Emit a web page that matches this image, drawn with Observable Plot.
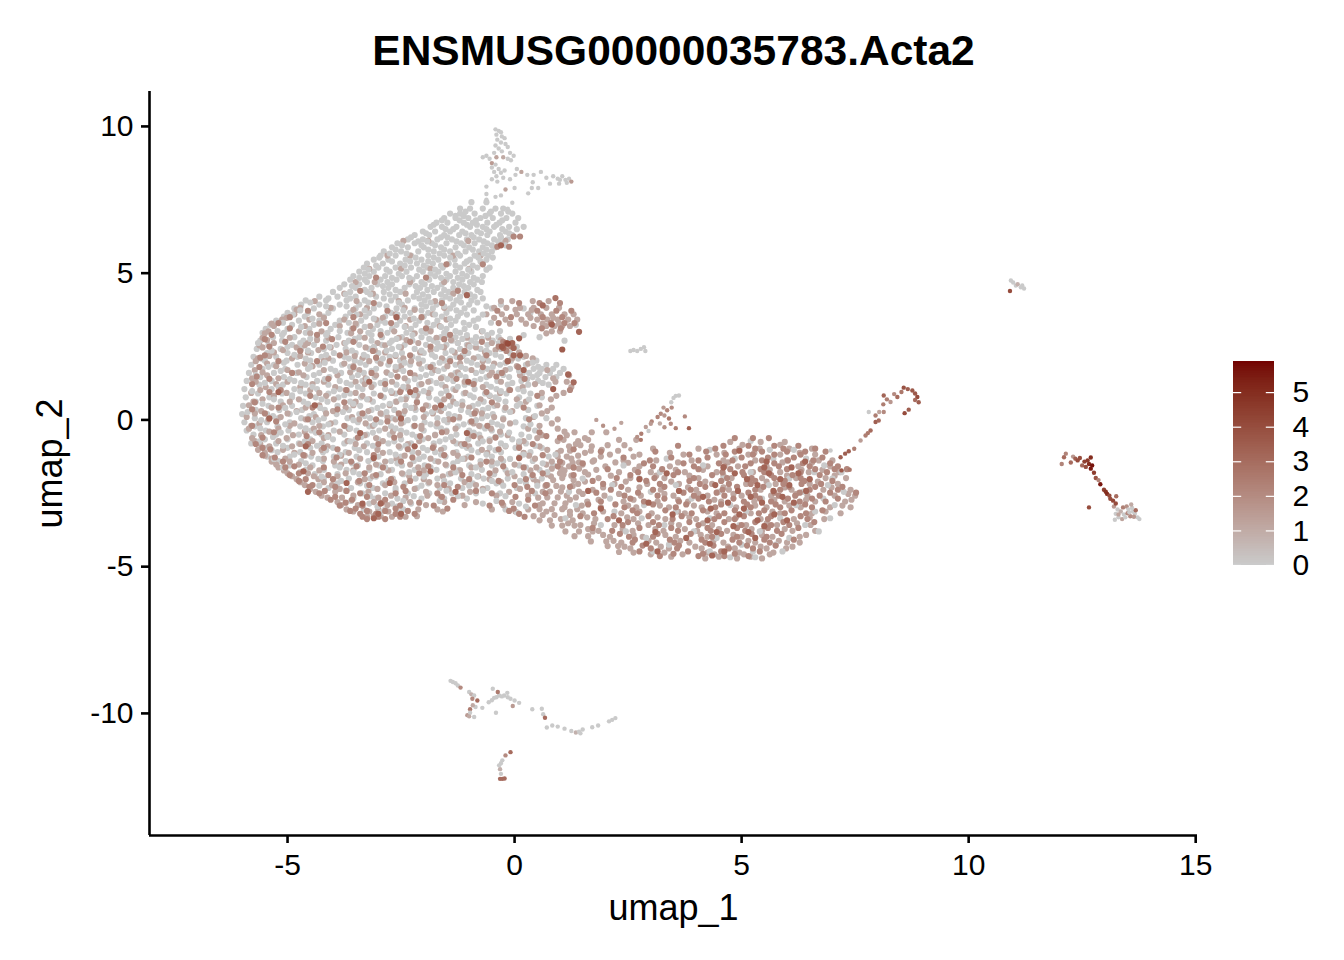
<!DOCTYPE html>
<html><head><meta charset="utf-8">
<script src="https://cdn.jsdelivr.net/npm/d3@7"></script>
<script src="https://cdn.jsdelivr.net/npm/@observablehq/plot@0.6"></script>
<style>html,body{margin:0;background:#fff}#c{position:relative;width:1344px;height:960px;overflow:hidden}#c svg{position:absolute;background:transparent}</style>
</head><body><div id="c"></div>
<script>
const titleText="ENSMUSG00000035783.Acta2", xLabel="umap_1", yLabel="umap_2";
const xTicks=[-5,0,5,10,15], yTicks=[-10,-5,0,5,10], legendTicks=[0,1,2,3,4,5];
const maxValue=5.9;
// rows: [y, x, x, x ...]
const bodyGrey=[
[7.42,-0.95,-0.62],[7.2,-1.2,-0.98,-0.7,-0.42,-0.25],[7.03,-1.42,-1.2,-0.88,-0.55,-0.3,-0.05],[6.88,-1.55,-1.3,-1.02,-0.75,-0.48,-0.18,0.08],
[6.72,-1.72,-1.48,-1.12,-0.92,-0.6,-0.33,0.02],[6.58,-1.85,-1.6,-1.28,-0.98,-0.7,-0.45,-0.12,0.2],[6.42,-2.02,-1.75,-1.42,-1.15,-0.82,-0.55,-0.2],[6.3,-2.2,-1.88,-1.55,-1.22,-0.95,-0.6,-0.32,-0.05],
[6.15,-2.35,-2.02,-1.7,-1.38,-1.05,-0.78,-0.45,-0.15],[6.02,-2.58,-2.2,-1.82,-1.5,-1.18,-0.88,-0.6,-0.28],[5.88,-2.7,-2.35,-2,-1.62,-1.3,-1,-0.7,-0.42],[5.74,-2.88,-2.5,-2.12,-1.78,-1.42,-1.08,-0.78,-0.5],
[5.6,-2.95,-2.62,-2.28,-1.9,-1.55,-1.2,-0.88,-0.58],[5.46,-3.1,-2.78,-2.4,-2.05,-1.68,-1.32,-0.98,-0.62],[5.33,-3.25,-2.9,-2.52,-2.15,-1.8,-1.45,-1.1,-0.7],[5.19,-3.32,-3,-2.62,-2.28,-1.92,-1.58,-1.2,-0.82,-0.55],
[5.05,-3.42,-3.1,-2.75,-2.38,-2.02,-1.68,-1.3,-0.95],[4.9,-3.55,-3.2,-2.85,-2.48,-2.15,-1.75,-1.42,-1.05,-0.7],[4.78,-3.62,-3.3,-2.95,-2.6,-2.25,-1.88,-1.5,-1.15,-0.82],[4.62,-3.75,-3.42,-3.02,-2.7,-2.32,-1.98,-1.6,-1.22,-0.9],
[4.5,-3.85,-3.5,-3.15,-2.78,-2.42,-2.08,-1.7,-1.35,-1.02],[4.36,-4,-3.62,-3.25,-2.88,-2.52,-2.15,-1.78,-1.45,-1.1,-0.75],[4.2,-4.3,-3.9,-3.5,-3.05,-2.62,-2.22,-1.9,-1.52,-1.2,-0.88],[4.07,-4.6,-4.15,-3.7,-3.3,-2.72,-2.35,-1.98,-1.6,-1.28,-0.95],
[3.93,-4.7,-4.3,-3.85,-3.42,-2.98,-2.48,-2.05,-1.72,-1.35,-1.0,-0.3],[3.8,-4.85,-4.42,-4,-3.5,-3.1,-2.6,-2.2,-1.8,-1.42,-1.1,-0.5,0.2],[3.65,-5,-4.55,-4.1,-3.62,-3.2,-2.72,-2.3,-1.9,-1.5,-1.18,0.35],[3.52,-5.08,-4.62,-4.2,-3.72,-3.28,-2.85,-2.42,-2,-1.6,-1.25],
[3.38,-5.25,-4.75,-4.3,-3.85,-3.38,-2.95,-2.52,-2.1,-1.7,-1.3,-0.9],[3.24,-5.38,-4.9,-4.42,-3.95,-3.48,-3.02,-2.6,-2.18,-1.78,-1.4,-1.0,1.35],[3.1,-5.48,-5,-4.52,-4.05,-3.58,-3.12,-2.7,-2.28,-1.85,-1.5,-1.1],[2.97,-5.55,-5.08,-4.6,-4.12,-3.68,-3.22,-2.8,-2.38,-1.95,-1.55,-1.2,-0.5],
[2.82,-5.32,-4.85,-4.35,-3.88,-3.42,-2.92,-2.48,-2.05,-1.62,-1.3,-0.85,-0.35,0.55],[2.7,-5.6,-5.12,-4.65,-4.15,-3.65,-3.15,-2.7,-2.25,-1.78,-1.38,-0.95,-0.48,1.1],[2.56,-5.42,-4.9,-4.42,-3.92,-3.42,-2.92,-2.42,-1.95,-1.5,-1.05,-0.6],[2.42,-5.68,-5.15,-4.7,-4.2,-3.72,-3.2,-2.7,-2.2,-1.72,-1.2,-0.75,-0.3],
[2.28,-5.45,-5,-4.48,-3.98,-3.5,-3,-2.48,-2,-1.52,-1.02,-0.55,-0.1],[2.15,-5.75,-5.25,-4.78,-4.25,-3.75,-3.25,-2.75,-2.25,-1.75,-1.28,-0.8,-0.3,0.2],[2.02,-5.5,-5.02,-4.5,-4,-3.52,-3.02,-2.52,-2.02,-1.55,-1.05,-0.58,-0.08,0.48],[1.88,-5.8,-5.3,-4.78,-4.3,-3.8,-3.28,-2.78,-2.3,-1.8,-1.3,-0.82,-0.32,0.25,0.7,0.92],
[1.74,-5.55,-5.05,-4.55,-4.05,-3.55,-3.05,-2.55,-2.05,-1.55,-1.08,-0.6,-0.1,0.42,0.6,0.85,1.08],[1.6,-5.85,-5.3,-4.8,-4.3,-3.82,-3.32,-2.8,-2.3,-1.82,-1.3,-0.85,-0.35,0.18,0.32,0.55,0.78,1],[1.46,-5.6,-5.08,-4.58,-4.08,-3.58,-3.08,-2.58,-2.08,-1.58,-1.08,-0.62,-0.12,0.4,0.68,0.92],[1.33,-5.9,-5.35,-4.85,-4.35,-3.85,-3.35,-2.85,-2.35,-1.85,-1.35,-0.88,-0.38,0.15,0.52],
[1.2,-5.62,-5.1,-4.6,-4.1,-3.6,-3.1,-2.6,-2.1,-1.6,-1.1,-0.62,-0.15,0.3,0.75],[1.05,-5.95,-5.35,-4.85,-4.35,-3.85,-3.35,-2.85,-2.35,-1.85,-1.35,-0.88,-0.4,0.08],[0.9,-5.65,-5.12,-4.6,-4.1,-3.62,-3.1,-2.62,-2.12,-1.62,-1.12,-0.65,-0.18,0.35],[0.77,-5.92,-5.4,-4.9,-4.38,-3.88,-3.38,-2.88,-2.38,-1.88,-1.4,-0.9,-0.42,0.1,0.6],
[0.62,-5.7,-5.15,-4.65,-4.12,-3.62,-3.12,-2.62,-2.15,-1.65,-1.15,-0.68,-0.2],[0.48,-5.98,-5.42,-4.9,-4.4,-3.9,-3.4,-2.9,-2.4,-1.9,-1.42,-0.92,-0.45,0.05,0.5],[0.34,-5.7,-5.18,-4.68,-4.18,-3.65,-3.15,-2.65,-2.18,-1.68,-1.18,-0.7,-0.22,0.3],[0.2,-6,-5.45,-4.95,-4.42,-3.92,-3.42,-2.92,-2.45,-1.95,-1.45,-0.95,-0.48],
[0.06,-5.72,-5.2,-4.7,-4.2,-3.68,-3.18,-2.7,-2.2,-1.7,-1.22,-0.72,-0.25,0.25,0.7],[-0.08,-5.95,-5.45,-4.95,-4.45,-3.95,-3.45,-2.95,-2.45,-1.98,-1.48,-0.98,-0.5,0.02],[-0.22,-5.72,-5.22,-4.72,-4.22,-3.72,-3.2,-2.72,-2.22,-1.72,-1.25,-0.75,-0.28,0.2],[-0.36,-5.9,-5.48,-4.98,-4.48,-3.98,-3.48,-2.98,-2.5,-2,-1.5,-1,-0.5,0.45],
[-0.5,-5.75,-5.25,-4.75,-4.25,-3.75,-3.25,-2.75,-2.25,-1.75,-1.28,-0.78,-0.3,0.15],[-0.66,-5.5,-5,-4.5,-4,-3.5,-3,-2.5,-2.02,-1.52,-1.02,-0.55,-0.05],[-0.8,-5.8,-5.25,-4.75,-4.25,-3.75,-3.25,-2.78,-2.28,-1.78,-1.28,-0.8,-0.3,0.25],[-0.95,-5.5,-5,-4.5,-4,-3.52,-3.02,-2.52,-2.02,-1.55,-1.05,-0.55,0.02,0.6],
[-1.1,-5.22,-4.72,-4.22,-3.72,-3.25,-2.75,-2.25,-1.75,-1.28,-0.8,-0.3,0.35],[-1.25,-5.45,-4.95,-4.48,-3.98,-3.48,-3,-2.5,-2,-1.52,-1.02,-0.5,0.12,0.75],[-1.4,-5.2,-4.7,-4.22,-3.72,-3.22,-2.72,-2.22,-1.75,-1.25,-0.75,-0.25,0.4],[-1.55,-4.95,-4.45,-3.95,-3.45,-2.98,-2.48,-1.98,-1.5,-1,-0.5,0.1,0.85],
[-1.7,-5.05,-4.6,-4.2,-3.7,-3.2,-2.7,-2.2,-1.72,-1.22,-0.72,-0.2,0.55],[-1.85,-4.4,-3.9,-3.42,-2.95,-2.45,-1.95,-1.45,-0.95,-0.45,0.2],[-2,-4.2,-3.65,-3.18,-2.68,-2.18,-1.7,-1.18,-0.68,-0.15,0.6],[-2.16,-3.9,-3.4,-2.9,-2.42,-1.9,-1.42,-0.92,-0.4,0.25],
[-2.32,-4.1,-3.6,-3.12,-2.62,-2.15,-1.65,-1.15,-0.6,0.05],[-2.5,-3.35,-2.85,-2.35,-1.88,-1.38,-0.85,-0.32,0.45],[-2.68,-3.55,-3.08,-2.58,-2.05,-1.55,-1.05],[-2.85,-3.2,-2.7,-2.28,-0.7,0.1],[-3.05,-3.32,-2.85,-2.45,-0.2]];
const bodyGreyMore=[
[7.1,-1.08,-0.52,-0.14],[6.95,-1.3,-1.12,-0.64],[6.8,-1.6,-1.21,-0.85,-0.27],[6.65,-1.78,-1.05,-0.83,-0.4],[6.5,-1.52,-1.35,-0.62,-0.27,0.05],[6.36,-1.95,-1.08,-0.74,-0.12],[6.22,-2.28,-1.62,-1.48,-0.9,-0.3],[6.08,-2.12,-1.92,-1.28,-0.68,-0.36],
[5.95,-2.48,-2.05,-1.75,-1.12,-0.5,-0.2],[5.8,-2.62,-1.9,-1.55,-0.92,-0.62],[5.67,-2.75,-2.38,-1.65,-1.25,-0.68],[5.53,-2.98,-2.18,-1.78,-1.42,-0.8,-0.48],[5.4,-2.7,-2.3,-1.9,-1.05,-0.75],[5.26,-3.05,-2.42,-2,-1.62,-1.3,-0.92],[5.12,-3.22,-2.82,-2.1,-1.75,-1.02,-0.62],[4.98,-3.3,-2.55,-1.85,-1.5,-1.15],
[4.84,-3.42,-2.7,-2.32,-1.62,-1.25,-0.9],[4.7,-3.25,-2.8,-2.05,-1.35,-0.98,-0.72],[4.56,-3.58,-2.9,-2.18,-1.82,-1.12],[4.43,-3.3,-2.62,-1.92,-1.55,-1.25,-0.82],[4.28,-3.72,-3.18,-2.75,-2.02,-1.62,-0.98],[4.14,-4.1,-3.62,-2.88,-2.1,-1.42,-0.7],[4,-4.5,-3.22,-2.55,-1.85,-1.18,-0.82],[3.87,-4.15,-3.7,-2.82,-1.95,-1.55,-0.62],
[3.73,-4.72,-3.3,-2.45,-2.05,-1.28,-0.9],[3.59,-4.88,-3.48,-2.58,-1.75,-1.05,-0.7],[3.45,-4.45,-3.1,-2.22,-1.42,-0.8],[3.31,-5.1,-3.65,-2.85,-1.92,-1.12,-0.52],[3.17,-4.7,-3.3,-2.42,-1.62,-0.85],[3.03,-5.22,-3.85,-2.95,-2.05,-1.3,-0.7,-0.32],[2.89,-5.12,-4.15,-3.15,-2.25,-1.48,-1.05,-0.6,0.2],[2.76,-4.5,-3.52,-2.6,-1.88,-1.15,-0.72,-0.1],
[2.62,-5.65,-4.72,-3.72,-2.75,-1.7,-1.25,-0.85,-0.35],[2.49,-5,-4.08,-3.1,-2.55,-1.62,-0.98,0.05],[2.36,-5.35,-4.55,-3.58,-2.82,-2.05,-1.38,-0.62],[2.22,-4.85,-4.15,-3.32,-2.62,-1.82,-1.12,-0.42],[2.09,-5.58,-4.6,-3.65,-2.9,-2.12,-1.42,-0.7,0.08],[1.95,-5.08,-4.18,-3.4,-2.42,-1.65,-0.95,-0.2,0.4],[1.81,-5.42,-4.5,-3.62,-2.62,-1.92,-1.18,-0.48,0.52],[1.67,-5.15,-3.95,-3.15,-2.45,-1.68,-0.72,0.1],
[1.53,-5.7,-4.42,-3.45,-2.72,-1.95,-1.2,-0.25,0.5],[1.39,-4.95,-4.18,-3.25,-2.2,-1.48,-0.75,0.28],[1.26,-5.5,-4.7,-3.7,-2.95,-1.72,-0.98,-0.05,0.62],[1.13,-5.2,-4.45,-3.45,-2.45,-1.25,-0.52],[0.98,-5.78,-4.72,-3.98,-2.72,-2,-1.5,-0.3,0.2],[0.84,-4.9,-3.75,-2.95,-2.22,-0.98,-0.55],[0.7,-5.3,-4.25,-3.25,-2.5,-1.72,-0.35,0.32],[0.55,-5.55,-4.55,-3.55,-2.75,-1.28,-0.8,0.12],
[0.41,-5.05,-4.28,-3.02,-2.28,-1.55,-0.58],[0.27,-5.88,-4.8,-3.78,-2.82,-1.82,-1.02,-0.1],[0.13,-5.32,-4.52,-3.3,-2.55,-1.32,-0.6,0.45],[-0.01,-5.58,-4.32,-3.55,-2.35,-1.55,-0.85],[-0.15,-5.05,-4.1,-3.08,-1.85,-1.12,-0.38,0.35],[-0.29,-5.6,-4.6,-3.62,-2.62,-1.62,-0.65],[-0.43,-5.15,-4.38,-3.12,-2.38,-0.9,-0.12],[-0.58,-5.32,-4.12,-3.38,-2.15,-1.4,-0.42,0.32],
[-0.73,-5.62,-4.62,-3.62,-2.65,-1.65,-0.7,0.1],[-0.88,-5.1,-4.35,-3.12,-2.4,-1.15,-0.2,0.45],[-1.03,-5.35,-4.15,-3.42,-1.92,-0.95,-0.42],[-1.18,-4.85,-3.85,-2.62,-1.62,-0.62,0.2,0.9],[-1.33,-5.3,-4.32,-3.12,-2.1,-1.15,-0.1],[-1.48,-4.6,-3.58,-2.58,-1.35,-0.38,0.62],[-1.62,-5.1,-3.85,-2.85,-1.85,-0.85,0.25],[-1.78,-4.72,-3.55,-2.32,-1.3,-0.05,0.72],
[-1.93,-4.25,-3.05,-2,-0.82,0.38],[-2.08,-3.82,-2.78,-1.55,-0.5,0.12],[-2.24,-4.3,-3.25,-2.05,-1,-0.25,0.5],[-2.41,-3.72,-2.62,-1.5,-0.7],[-2.6,-3.18,-2.22,-1.25,-0.2],[-2.76,-3.6,-2.45,-1.65,-0.4],[-2.95,-3.02,-2.6,0.25],[-3.15,-2.95,-2.55,0.05]];
const bodyLight=[
[6.1,-2.45,-1.9,-1.02,-0.2],[5.6,-2.8,-2.3,-1.35,-0.75],[5.15,-3.2,-2.5,-1.85,-1],[4.7,-3.5,-3.08,-2.3,-1.55],[4.3,-3.75,-3.12,-2.4,-1.35],[4.05,-4.4,-3.48,-2.55,-1.75,-0.3,-0.05,0.4,0.75],[3.82,-4.72,-4.05,-3.25,-2.42,-1.55,-0.45,-0.18,0.12,0.42,0.7,0.98],[3.6,-4.85,-4.3,-3.4,-2.62,-1.8,-0.62,-0.28,0.05,0.3,0.58,0.82,1.1,1.3],
[3.42,-5.12,-4.52,-3.75,-3.05,-2.3,-1.5,-0.2,0.15,0.5,0.72,0.95,1.18,1.38],[3.2,-5.3,-4.62,-3.85,-3.18,-2.4,-1.65,0.42,0.7,0.88,1.05,1.22],[3.02,-5.42,-4.75,-4.25,-3.4,-2.65,-1.85,-0.72,0.82,1],[2.8,-5.55,-4.95,-4.1,-3.3,-2.55,-1.72,-1.05,-0.58],[2.62,-5.3,-4.55,-3.75,-3.02,-2.12,-1.25,-0.5,-0.12],[2.47,-5.55,-4.8,-4.05,-3.28,-2.5,-1.55,-0.85,-0.2],[2.3,-5.3,-4.55,-3.7,-2.85,-2.08,-1.32,-0.65,0.1],[2.1,-5.65,-4.9,-4.1,-3.35,-2.45,-1.6,-0.9,-0.05,0.4],
[1.92,-5.45,-4.62,-3.75,-2.95,-2.1,-1.2,-0.45,0.3],[1.7,-5.72,-5,-4.2,-3.42,-2.62,-1.75,-0.95,-0.2,0.72],[1.52,-5.45,-4.65,-3.9,-3.05,-2.2,-1.4,-0.55,0.12,1.2],[1.3,-5.7,-5,-4.2,-3.5,-2.7,-1.9,-1.1,-0.3,0.9,1.15],[1.12,-5.48,-4.72,-3.95,-3.15,-2.35,-1.52,-0.7,0.18,1.25],[0.92,-5.8,-5.02,-4.3,-3.5,-2.7,-1.9,-1.08,-0.32,0.6,1.08],[0.7,-5.55,-4.75,-3.98,-3.2,-2.4,-1.55,-0.75,0.05,0.8],[0.5,-5.85,-5.1,-4.3,-3.55,-2.75,-1.95,-1.15,-0.38,0.55],
[0.3,-5.58,-4.8,-4,-3.22,-2.42,-1.62,-0.85,-0.05,0.72],[0.1,-5.9,-5.15,-4.38,-3.58,-2.8,-2,-1.22,-0.45,0.42],[-0.12,-5.62,-4.85,-4.05,-3.28,-2.5,-1.7,-0.9,-0.1,0.82],[-0.3,-5.85,-5.2,-4.42,-3.65,-2.85,-2.05,-1.3,-0.52,0.3,0.95],[-0.52,-5.58,-4.88,-4.1,-3.3,-2.52,-1.75,-0.95,-0.15,0.6,1.15],[-0.72,-5.72,-5.2,-4.45,-3.68,-2.9,-2.1,-1.35,-0.55,0.2,0.95,1.4],[-0.9,-5.4,-4.9,-4.12,-3.32,-2.55,-1.78,-1,-0.2,0.55,1.2,1.7],[-1.12,-5.5,-4.85,-4.45,-3.65,-2.9,-2.12,-1.35,-0.6,0.2,0.95,1.55],
[-1.32,-5.35,-5.05,-4.2,-3.4,-2.6,-1.85,-1.1,-0.3,0.45,1.25],[-1.52,-5.25,-4.75,-3.82,-3.05,-2.3,-1.52,-0.75,0,0.7,1.5],[-1.72,-5.08,-4.3,-3.55,-2.78,-2,-1.2,-0.42,0.35,1.1],[-1.92,-4.9,-4.42,-3.9,-3.12,-2.32,-1.58,-0.8,0,0.8],[-2.12,-4.72,-4.2,-3.45,-2.65,-1.88,-1.1,-0.3,0.5],[-2.35,-4.5,-3.85,-3.02,-2.2,-1.45,-0.7,0.12],[-2.58,-4.25,-3.55,-2.72,-1.92,-1.15,-0.4,0.3],[-2.8,-3.9,-3.1,-2.3,-1.55,-0.85,-0.05],[-3.05,-3.7,-3,-2.12,-1.7,-0.5,0.3],[-3.3,-3.25,-2.7,-2.4]];
const bodyLightMore=[
[3.75,-4.8,-3.55,-2.2,0.02,0.38],[3.48,-5.02,-4.2,-2.9,-0.45,0.35,0.85],[3.28,-5.35,-4.3,-3.5,-0.1,0.25,0.62,0.98],[2.95,-5.5,-4.5,-3.6,-2.2,0.7],[2.72,-5.45,-4.35,-3.52,-2.38,-1.4,-0.3],[2.54,-5.62,-4.62,-2.85,-1.02],[2.38,-5.1,-4.32,-3.08,-1.85,-0.42],[2.18,-5.4,-4.72,-3.52,-2.62,-1.15,0.25],
[2.0,-5.7,-4.2,-3.2,-2.28,-0.7],[1.83,-5.25,-4.45,-3.55,-2.5,-1.48,0.05],[1.62,-5.55,-4.75,-3.62,-2.82,-1.25,-0.5],[1.42,-5.78,-5.2,-3.28,-2.42,-1.62,0.85],[1.22,-5.25,-4.45,-3.3,-2.05,-0.92,0.45],[1.02,-5.6,-4.5,-3.72,-2.5,-1.3,-0.12],[0.82,-5.3,-4.15,-3.35,-2.15,-0.55,0.92],[0.62,-5.75,-4.95,-3.5,-2.6,-1.35,0.25],
[0.42,-5.35,-4.6,-3.72,-2.2,-1,-0.2,0.82],[0.22,-5.72,-5,-4.15,-2.95,-1.8,-0.72,0.6],[0.02,-5.42,-4.6,-3.42,-2.62,-1.45,-0.25,0.95],[-0.2,-5.8,-4.95,-4.3,-3.12,-2.05,-0.78,0.55],[-0.4,-5.4,-4.62,-3.85,-2.68,-1.5,-0.32,1.1],[-0.62,-5.78,-5.02,-4.2,-3.05,-1.9,-0.75,0.5,1.55],[-0.82,-5.6,-4.72,-3.5,-2.35,-1.18,0.1,1.35],[-1.02,-5.65,-5.1,-4.25,-3.02,-1.62,-0.72,0.72,1.92],
[-1.22,-5.5,-4.62,-3.82,-2.42,-1.25,0.32,1.4],[-1.42,-5.35,-4.95,-3.98,-2.85,-1.68,-0.5,0.82,1.72],[-1.62,-5.2,-4.5,-3.2,-2.12,-0.95,0.48,1.3],[-1.82,-5,-4.55,-3.72,-2.48,-1.4,-0.15,1],[-2.02,-4.8,-4.32,-3.3,-2.0,-0.55,0.42],[-2.22,-4.62,-4.02,-2.85,-1.7,-0.85,0.72],[-2.45,-4.38,-3.95,-3.22,-1.95,-0.98,-0.12,0.62],[-2.65,-4.12,-3.8,-3,-2.4,-1.62,0.52],
[-2.9,-3.82,-3.45,-2.8,-1.95,-1.1,-0.25,0.55],[-3.12,-3.55,-3.2,-2.78,-1.58,0.02,0.7],[-3.28,-3.1,-2.95,-2.15,0.42]];
const bridgeLight=[
[-0.42,1.32,1.7,2.02],[-0.68,1.08,1.62,2.3,2.68],[-0.86,1.45,2.05,2.42],[-1.05,1.22,1.02,1.68,2.28],[-1.25,0.95,1.15,1.9,2.62],[-1.46,1.05,1.28,2.5],[-1.66,0.82,1.02,1.42],[-1.86,0.72,1.08,1.62],[-2.05,0.85,1.3],[-2.25,0.68,0.92,1.28],[-2.44,0.78,1.02,1.42],[-2.64,0.72,0.95,1.35],[-2.84,0.62,0.88,1.12],[-3.04,0.55,0.82,1.05,1.38],[-3.24,0.62,0.88,1.22],[-3.42,0.55,0.78,1.28],[-3.6,0.82,1.05,1.32],[-3.8,1.12,1.42,1.72],[-3.96,1.32,1.62],[-4.14,1.68,2.02],[-4.3,2.05,2.28],[-4.5,2.3]];
const bodyMid=[
[6.25,-0.02,0.12],[5.9,-0.12,-0.38],[5.3,-1.5,-0.7],[4.85,-3.05,-1.95],[4.4,-3.4,-1.25],[3.98,-3.1,-1.6,0.1,0.55,1],[3.72,-4.55,-2.8,-0.38,0.5,0.92,1.25],[3.5,-4.95,-3.55,-2.05,-0.08,0.62,1.05],
[3.3,-5.2,-4.15,-2.72,-0.35,0.8,1.1,1.32],[3.12,-4.95,-3.55,-1.95,0.6,1.02],[2.9,-5.35,-4.35,-2.95,-1.42],[2.66,-5.05,-3.55,-2.3,-0.72,-0.25],[2.5,-5.4,-4.22,-1.85,-0.35,-0.08],[2.35,-4.72,-3.12,-1.1,-0.18],[2.2,-5.5,-3.85,-2.3,-0.62],[2,-5.2,-4.35,-2.75,-1.42,-0.15],
[1.8,-5.62,-3.55,-1.85,-0.7,0.08],[1.6,-4.9,-3.15,-2.3,-0.28],[1.4,-5.4,-4.1,-1.28,0.22],[1.22,-5.78,-2.85,-0.9],[1.02,-5.15,-3.7,-2.18,-0.1,1.22],[0.82,-4.5,-2.95,-1.45,0.5],[0.6,-5.72,-3.75,-2.15,-0.5],[0.42,-5.2,-4.45,-1.75,0.2],
[0.22,-5.5,-3.35,-2.55,-0.88],[0.02,-4.55,-3.05,-1.35,0.32],[-0.2,-5.78,-3.75,-2.2,-0.6],[-0.42,-5.3,-4.3,-1.6,0.55],[-0.6,-5.55,-3.45,-2.65,-0.42,1],[-0.82,-5.7,-4.55,-3,-1.1,0.4],[-1,-5.38,-3.9,-2.35,-0.35,1.3],[-1.2,-5.55,-4.65,-3.1,-1.55,0.62],
[-1.42,-5.1,-3.6,-2.5,-0.62,1.0],[-1.62,-5.05,-4.2,-2.9,-1.35,0.2,1.3],[-1.82,-4.75,-3.3,-2.1,-0.55,0.62],[-2.02,-4.6,-4,-2.72,-1,0.25],[-2.22,-4.45,-3.2,-1.55,0,0.7],[-2.42,-4.18,-3.7,-2.4,-0.85,0.38],[-2.62,-3.95,-3.25,-1.6,0.02],[-2.82,-3.72,-2.92,-2.1,-0.28],[-3.02,-3.5,-2.62,-1.48,-0.02],[-3.2,-3.4,-3.05,-2.62,-2.2,0.1],[-3.38,-3.25,-2.85]];
const bodyMidMore=[
[2.75,-5.5,-4.02,-1.55],[2.12,-5.6,-3.05,-1.2],[1.48,-5.68,-2.58,-0.4],[0.95,-5.4,-2.52,-0.62],[0.36,-5.78,-3.9,-2.02],[-0.05,-5.25,-2.8,-0.95],[-0.55,-4.58,-2.08,-0.9,0.7],[-0.95,-5.55,-4.2,-1.8,0.1],
[-1.28,-5.28,-3.92,-2.25,-0.95],[-1.58,-4.85,-3.48,-1.9,-0.25,0.95],[-1.88,-4.95,-4.1,-3.05,-1.15,0.4],[-2.08,-4.75,-3.42,-2.3,-0.35],[-2.28,-4.52,-3.95,-2.45,-1.25,0.28],[-2.5,-4.3,-3.4,-2.62,-1.7,-0.5,0.68],[-2.72,-4.05,-3.58,-2.85,-1.35,0.3],[-2.92,-3.85,-3.35,-2.52,-1.78,-0.55,0.45],[-3.1,-3.62,-3.25,-2.85,-2.35,-0.12],[-3.3,-3.35,-3,-2.52,0.22]];
const bodyDark=[
[5.95,-0.3],[4.25,-1.05],[3.5,-2.6],[2.62,-0.18,-0.05],[2.45,-0.25,-0.02],[2.2,-0.02,0.12],[2.0,-0.15],[1.7,0.2],[1.3,-1.02,-3.2],[0.95,-5.2,-2.3],[0.5,-4.4,-1.62],[0.05,-5.4,-2.5],[-0.45,-3.4,-1.05],[-0.9,-4.6,-2.2],[-1.3,-3.1,0.1],[-1.75,-4.65,-1.85],[-2.15,-3.7,-2.75],[-2.45,-4.55,-1.3],[-2.85,-3.35,-2.95],[-3.2,-3.0,-2.5],[-3.35,-3.1]];
const rightGrey=[
[-0.72,5.2],[-1.02,4.3,5.62,6.15],[-1.32,3.35,4.85,5.7,6.42],[-1.55,2.4,4.15,6.82],[-1.78,3.2,5.2,6.6,7.2],[-2,1.5,2.75,4.6,6.05,7],[-2.22,2.15,3.55,5.6,6.9],[-2.45,1.2,3,4.5,6.35,7.25],[-2.68,2.1,3.9,5.45,6.8],[-2.9,1.35,2.85,4.75,6.2,7.05],[-3.12,2.2,3.55,5.1,6.62],[-3.35,1.12,2.8,4.3,5.85,6.95],[-3.58,1.9,3.3,4.95,6.4],[-3.8,2.45,3.95,5.4,6.7],[-4.02,2.9,4.45,6.05],[-4.25,3.4,5,5.75],[-4.48,3.05,4.3,5.25,5.9],[-4.68,4.75,5.3]];
const rightLight=[
[-0.75,4.75,5.42,5.95],[-0.98,3.05,4.05,4.95,5.4,6.05,6.55],[-1.18,2.1,2.75,3.72,4.45,5.15,5.85,6.62],[-1.38,1.75,2.4,3.12,3.9,4.6,5.3,6,6.7,7],[-1.58,1.2,2,2.75,3.42,4.25,4.92,5.55,6.25,6.95],[-1.78,1.55,2.3,3,3.75,4.45,5.25,5.85,6.48,7.15],[-1.98,1.05,1.85,2.55,3.3,4.05,4.78,5.45,6.2,6.85,7.3],[-2.18,1.4,2.2,2.92,3.62,4.35,5.1,5.75,6.5,7.12],
[-2.38,1.72,2.5,3.22,4,4.72,5.42,6.1,6.8,7.4],[-2.58,1.15,1.98,2.78,3.5,4.25,5,5.65,6.45,7.05,7.5],[-2.78,1.6,2.4,3.15,3.82,4.55,5.28,5.95,6.62,7.28],[-2.98,1.1,1.9,2.68,3.4,4.12,4.88,5.55,6.3,6.95,7.4],[-3.18,1.5,2.35,3.02,3.75,4.45,5.2,5.85,6.55,7.18],[-3.38,1.02,1.78,2.62,3.32,4,4.72,5.42,6.15,6.82],[-3.58,1.45,2.2,2.95,3.62,4.35,5.1,5.78,6.52],[-3.78,1.85,2.6,3.28,4.02,4.68,5.45,6.12,6.62],
[-3.98,2.1,2.82,3.55,4.25,5,5.68,6.28],[-4.18,2.35,3.12,3.85,4.6,5.3,6,6.28],[-4.38,2.55,3.4,4.12,4.85,5.55,5.98],[-4.58,3,3.7,4.4,5.05,5.62],[-4.72,4.2,4.9,5.45]];
const rightLightMore=[
[-0.85,5.02,5.85],[-1.12,3.42,4.62,5.28,6.28],[-1.45,1.42,2.22,3.6,4.7,5.9,6.55],[-1.7,1.8,2.65,3.55,4.15,5.62,6.32,6.78],[-1.9,1.25,2.12,3.12,3.85,4.6,6,7.05],[-2.1,1.55,2.45,3.45,4.2,5.55,6.68],[-2.3,1.05,1.95,2.75,3.82,4.6,5.95,6.98],[-2.52,1.5,2.3,3.3,4.05,4.82,6.2,7.35],
[-2.72,1.22,1.85,2.62,3.6,4.4,5.72,6.42,7.42],[-2.92,1.48,2.5,3.2,3.95,5.3,6.05,7.22],[-3.12,1.22,1.95,2.75,3.6,4.25,5.68,6.85],[-3.32,1.6,2.48,3.15,3.85,4.88,6.5],[-3.52,1.18,1.75,2.72,3.45,4.15,5.55,6.22],[-3.72,1.62,2.38,3.1,3.75,4.5,5.22,5.95],[-3.92,1.95,2.62,3.32,4.1,4.82,5.45,6.42],[-4.12,2.18,2.95,3.65,4.38,5.15,5.82],[-4.32,2.42,3.22,3.98,4.7,5.42,6.12],[-4.52,2.62,3.3,4.25,4.95,5.7],[-4.66,3.45,4.5,5.2]];
const rightMid=[
[-0.62,4.85,5.25,5.6],[-0.88,3.6,4.6,5.15,5.72,6.25],[-1.08,1.9,3.1,4.22,4.85,5.45,6,6.4,6.85],[-1.28,2.4,3.45,4.25,5,5.58,6.15,6.78],[-1.48,1.5,2.85,3.72,4.5,5.2,5.72,6.35,6.95],[-1.68,2.05,3.25,4.05,4.75,5.42,6,6.62,7.05,7.32],[-1.88,1.3,2.55,3.5,4.35,5.05,5.65,6.12,6.72],[-2.08,1.72,2.9,3.85,4.55,5.3,5.95,6.38,7],
[-2.28,1.22,2.35,3.3,4.2,4.9,5.48,6.05,6.62,7.22],[-2.48,1.8,2.72,3.72,4.45,5.15,5.72,6.28,6.95,7.52],[-2.68,2.55,3.3,4.05,4.82,5.4,6.02,6.55,7.12],[-2.88,1.62,2.22,3.05,3.78,4.55,5.12,5.75,6.4],[-3.08,2.6,3.32,4.15,4.85,5.5,6.1,6.78],[-3.28,1.45,2.18,2.95,3.68,4.5,5.05,5.65,6.3],[-3.48,2.5,3.05,3.85,4.62,5.3,5.92,6.6],[-3.68,1.72,2.75,3.45,4.25,4.9,5.58,6.25],
[-3.88,2.32,3.15,3.88,4.55,5.22,5.88],[-4.08,2.65,3.42,4.12,4.8,5.5,6.15],[-4.28,2.82,3.62,4.38,5.12,5.75],[-4.48,2.75,3.82,4.55,5.4],[-4.64,3.2,4.05,4.62,5.15]];
const rightMidMore=[
[-0.98,4.42,5.3,5.92,6.62],[-1.18,3.85,4.65,5.25,5.72,6.3],[-1.38,2.98,4.05,4.8,5.45,6.02,6.58],[-1.58,3.05,3.95,4.62,5.08,5.82,6.5,7.12],[-1.78,2.72,3.6,4.58,5.02,5.5,6.3,6.88],[-1.98,2.25,3.08,3.95,4.68,5.22,5.72,6.3],[-2.18,1.95,3.2,4.08,4.72,5.2,5.92,6.32,6.75],[-2.38,2.12,3.05,3.88,4.58,5.3,5.85,6.5,7.12],
[-2.58,2.42,3.15,3.95,4.62,5.3,5.82,6.18,6.72],[-2.78,1.9,2.85,3.62,4.28,5.05,5.65,6.28,6.85],[-2.98,2.42,3.55,4.42,5.2,5.85,6.55],[-3.18,1.75,2.7,3.9,4.62,5.38,5.95,6.42],[-3.38,2.05,3.48,4.4,4.85,5.58,6.45],[-3.58,2.38,3.18,4.05,5,5.65,6.05],[-3.78,2.15,3.6,4.32,5.08,5.78],[-3.98,2.52,3.05,4.35,4.9,5.55],[-4.18,2.6,3.52,4.2,4.95,5.62],[-4.38,3,3.58,4.72,5.25],[-4.56,3.5,4.15,4.85]];
const rightDark=[
[-1.05,4.95],[-1.42,5.55,6.4],[-1.62,4.6,5.5,6.1],[-1.82,3.35,4.85,5.6,6.25],[-2.02,2.75,5.12,5.85,6.5],[-2.22,4.42,5.35,6.05],[-2.42,1.62,3.62,4.92,5.7,6.42],[-2.62,4.15,5.2,5.9],[-2.82,2.95,4.7,5.45,6.15],[-3.02,1.9,4.32,5.05],[-3.22,3.48,4.95,5.72],[-3.42,2.3,4.25,5.35,6],[-3.62,4.82,5.5],[-3.82,3.1,4.45,5.15],[-4.02,3.78,5.3],[-4.22,2.9,4.3],[-4.48,3.15,4.62],[-4.62,4.35]];
const lobeDark=[[0.1,2.78,3.4],[-0.15,2.6,4],[-0.28,2.5,3.6],[0.82,3.25,3.4],[1.05,2.4,3.5],[1.18,1.55,3.2],[0.85,1.05,3.4],[1.3,1.28,3],[0.9,4.15,2.8],[0.62,3.9,3],[1.42,3.0,3.2]];
// small clusters: [x, y, value]
const topTip=[[-0.42,9.9],[-0.35,9.85],[-0.3,9.8],[-0.4,9.72],[-0.28,9.66],[-0.22,9.6],[-0.38,9.55],[-0.3,9.45],[-0.2,9.4],[-0.42,9.35],[-0.35,9.25],[-0.15,9.3],[-0.28,9.15],[-0.45,9.1],[-0.1,9.1],[-0.62,9],[-0.7,8.95],[-0.55,8.9],[-0.4,8.95,1.2],[-0.25,8.95,1],[-0.15,8.9],[-0.02,9],[-0.08,8.85],[-0.5,8.75,1.5],[-0.42,8.7],[-0.5,8.6],[-0.35,8.55],[-0.45,8.45],[-0.3,8.42],[-0.22,8.5],[-0.4,8.3],[-0.5,8.2],[-0.25,8.25],[-0.38,8.12],[-0.62,7.95],[-0.62,7.7],[-0.62,7.5],[-0.42,7.6],[-0.3,7.65],[-0.2,7.85,1.2],[-0.1,8.2],[0,7.9],[0.05,8.55],[0.15,8.45,1.2],[0.02,8.35],[0.28,8.35],[0.42,8.35],[0.58,8.45],[0.4,8.1],[0.52,7.9],[0.3,7.72],[0.38,7.9],[0.7,8.25],[0.78,8.05],[0.85,8.3],[0.98,8.05],[1.05,8.3],[1.12,8.18],[1.2,8.22],[1.25,8.12,1.5],[1.0,8.18],[1.15,8.08],[0.95,8.22],[-0.05,7.4],[-0.15,7.2]];
const midArm=[[3.62,0.83],[3.55,0.82],[3.5,0.75],[3.45,0.6],[3.46,0.42,2],[3.36,0.33,2.2],[3.28,0.42,1.5],[3.22,0.21,2],[3.3,0.15,1.6],[3.15,0.1,2.2],[3.4,0.05,2.6],[3.02,-0.05,2.2],[3,-0.13,1.5],[3.2,-0.12,1],[3.3,-0.25,1.8],[2.89,-0.24,1.4],[2.95,-0.38,0],[2.79,-0.47,2.4],[2.7,-0.58,1.8],[2.78,-0.68,2.6],[3.84,-0.28,3.4],[3.75,0.12,2],[3.55,-0.28,2.4],[3.44,-0.13,2],[2.2,-0.3,1.5],[2.35,-0.1,1.2],[1.95,-0.2,1.8],[1.8,0,1.4],[2.55,-1.0,1.2]];
const rightArm=[[8.57,1.1,3.8],[8.66,1.05,3.4],[8.76,1,3.6],[8.82,0.9,3.6],[8.87,0.78,4],[8.9,0.6,3.4],[8.82,0.68,3],[8.68,0.35,3.4],[8.59,0.23,4],[8.52,0.95,2.6],[8.43,0.78,3],[8.36,0.88,2],[8.28,0.61,1.6],[8.2,0.7,2.4],[8.13,0.83,3.2],[8.12,0.53,2.4],[8.13,0.27,2],[8.03,0.27,1.2],[7.95,0.15,2.4],[7.8,0.27],[7.95,-0.07,3.4],[8.02,-0.02,3],[7.84,-0.36,3],[7.78,-0.45,2.6],[7.73,-0.53,2.4],[7.62,-0.7,1.4],[7.48,-0.98,2.4],[7.36,-1.07,3.4],[7.28,-1.15,3.4],[7.18,-1.27,3.4],[6.96,-1.04],[7.2,-1.72,3.6],[7.38,-1.7,2.6]];
const smallGrey=[[2.55,2.35],[2.62,2.38],[2.7,2.35],[2.78,2.42],[2.85,2.48],[2.88,2.35]];
const rightTop=[[10.93,4.75],[10.98,4.68],[11.04,4.58],[11.08,4.62,0.8],[11.15,4.52],[11.18,4.58],[11.22,4.48],[10.91,4.39,4]];
const rightTail=[[12.14,-1.15,2.2],[12.1,-1.27,3],[12.05,-1.5,2.2],[12.25,-1.45,3],[12.3,-1.25,1.6],[12.35,-1.32,3.4],[12.4,-1.38,4],[12.45,-1.3,4],[12.5,-1.55,3.2],[12.55,-1.42,4.4],[12.58,-1.6,4],[12.65,-1.5,5],[12.69,-1.28,5],[12.62,-1.38,4.6],[12.69,-1.66,5.5],[12.72,-1.55,5.6],[12.76,-1.8,4.5],[12.8,-1.98,3.8],[12.86,-2.05,2.2],[12.9,-2.19,5.5],[12.98,-2.38,4.4],[13.02,-2.45,4.8],[13.05,-2.52,5],[13.1,-2.58,4],[13.12,-2.69,4],[13.18,-2.75,4.2],[13.25,-2.6,3],[13.24,-2.85,4],[12.65,-2.98,4]];
const rightBlob=[[13.2,-2.95,1.5],[13.28,-3.05],[13.24,-3.2],[13.22,-3.4],[13.3,-3.32],[13.38,-3.38,1.2],[13.42,-3.22],[13.35,-3.12,0.8],[13.4,-2.98,2.4],[13.48,-2.95,1.8],[13.52,-3.05],[13.5,-3.18,2],[13.45,-3.32],[13.56,-3.28,2],[13.6,-3],[13.62,-3.12],[13.58,-2.88,1],[13.66,-3.2],[13.68,-3.08,3],[13.72,-3.32],[13.76,-3.38],[13.64,-3.3,1.6],[13.3,-3.22,1.2],[13.54,-3.15]];
const bottomPieces=[[-1.41,-8.89],[-1.36,-8.93],[-1.3,-8.97],[-1.25,-9.05],[-1.19,-9.12,2],[-1,-9.27],[-0.95,-9.35,0.8],[-0.89,-9.39],[-0.82,-9.56,3],[-0.93,-9.5,2],[-0.86,-9.78],[-0.92,-9.72,1],[-0.98,-9.86,2.5],[-1.04,-10.06,1.5],[-0.98,-9.98],[-0.89,-10.12],[-1.0,-10.1,1],[-0.71,-9.81],[-0.57,-9.62],[-0.5,-9.55],[-0.45,-9.47],[-0.4,-9.45],[-0.34,-9.39],[-0.28,-9.42],[-0.23,-9.39],[-0.15,-9.45],[-0.09,-9.5],[0,-9.56],[0.1,-9.64],[-0.48,-9.16],[-0.37,-9.27,2.5],[-0.16,-9.3],[-0.04,-9.75,1.5],[-0.41,-9.98],[0.39,-9.86],[0.6,-9.84],[0.63,-10.03],[0.67,-10.15,3],[0.71,-10.48],[0.83,-10.41],[0.95,-10.45],[1.1,-10.52],[1.25,-10.6],[1.35,-10.65,0.8],[1.42,-10.62],[1.45,-10.68],[1.5,-10.55],[1.71,-10.47],[1.84,-10.41],[2.08,-10.27],[2.15,-10.22],[2.22,-10.16],[-0.09,-11.32,3],[-0.2,-11.43,2],[-0.27,-11.6],[-0.3,-11.7],[-0.34,-11.77],[-0.32,-11.9,0.8],[-0.3,-12.06],[-0.27,-12.23,3],[-0.32,-12.23,3],[-0.22,-12.22,3]];

const levels={grey:0,light:1.1,mid:2.1,dark:3.2};
const expand=(rows,v)=>rows.flatMap(([y,...xs])=>xs.map(x=>({x,y,v})));
const small=list=>list.map(d=>({x:d[0],y:d[1],v:d[2]||0}));
const bodyPoints=[
 ...expand(bodyGrey,levels.grey),
 ...expand(bodyLight,levels.light),...expand(bodyLightMore,levels.light),...expand(rightLight,levels.light),...expand(rightLightMore,levels.light),...expand(bridgeLight,levels.light),
 ...expand(bodyGreyMore,levels.grey),...expand(rightGrey,levels.grey),
 ...expand(rightMid,levels.mid),...expand(rightMidMore,levels.mid),...expand(bodyMid,levels.mid),...expand(bodyMidMore,levels.mid),
 ...expand(bodyDark,levels.dark),...expand(rightDark,levels.dark),...small(lobeDark)
];
const clusterPoints=[...small(topTip),...small(midArm),...small(rightArm),...small(smallGrey),...small(rightTop),...small(rightBlob),...small(rightTail),...small(bottomPieces)];
const colorScale={type:"linear",domain:[0,maxValue],range:["#cacaca","#720000"],interpolate:"lab"};
const font="'Liberation Sans',Arial,sans-serif";
const xMin=-8.04,xMax=15.04,yMin=-14.16,yMax=11.19;
const main=Plot.plot({
 width:1344,height:960,marginLeft:149,marginRight:147,marginTop:91,marginBottom:125,
 style:{fontFamily:font,background:"transparent"},
 x:{domain:[xMin,xMax]},y:{domain:[yMin,yMax]},color:colorScale,
 marks:[
  Plot.dot(bodyPoints,{x:"x",y:"y",r:3.1,fill:"v",stroke:"none"}),
  Plot.dot(clusterPoints,{x:"x",y:"y",r:2.2,fill:"v",stroke:"none"}),
  Plot.ruleX([xMin],{stroke:"#000",strokeWidth:2.6}),
  Plot.ruleY([yMin],{stroke:"#000",strokeWidth:2.6}),
  Plot.axisX({ticks:xTicks,tickSize:8,tickPadding:10,fontSize:30,label:null,tickFormat:d=>String(d),strokeWidth:2.6,color:"#000"}),
  Plot.axisY({ticks:yTicks,tickSize:8,tickPadding:8,fontSize:30,label:null,tickFormat:d=>String(d),strokeWidth:2.6,color:"#000"}),
  Plot.text([xLabel],{frameAnchor:"bottom",dy:84,fontSize:36,text:d=>d,fill:"#000"}),
  Plot.text([yLabel],{frameAnchor:"left",dx:-99,rotate:-90,textAnchor:"middle",fontSize:36,text:d=>d,fill:"#000"}),
  Plot.text([titleText],{frameAnchor:"top",dy:-57,fontSize:42.5,fontWeight:"bold",text:d=>d,fill:"#000"})
 ]
});
main.style.left="0";main.style.top="0";
const legendSteps=d3.range(0,maxValue,0.05);
const legend=Plot.plot({
 width:100,height:244,marginLeft:0,marginRight:59,marginTop:10,marginBottom:30,
 style:{fontFamily:font,background:"transparent"},
 x:{domain:[0,1],axis:null},y:{domain:[0,maxValue]},color:colorScale,
 marks:[
  Plot.rect(legendSteps,{x1:0,x2:1,y1:d=>d,y2:d=>d+0.06,fill:d=>d,shapeRendering:"crispEdges"}),
  Plot.ruleY(legendTicks,{x1:0,x2:0.2,stroke:"#fff",strokeWidth:1.2}),
  Plot.ruleY(legendTicks,{x1:0.8,x2:1,stroke:"#fff",strokeWidth:1.2}),
  Plot.axisY({anchor:"right",ticks:legendTicks,tickSize:0,tickPadding:18,fontSize:30,label:null,tickFormat:d=>String(d),color:"#000"})
 ]
});
legend.style.left="1233px";legend.style.top="351px";
const c=document.getElementById("c");c.append(main,legend);
</script></body></html>
